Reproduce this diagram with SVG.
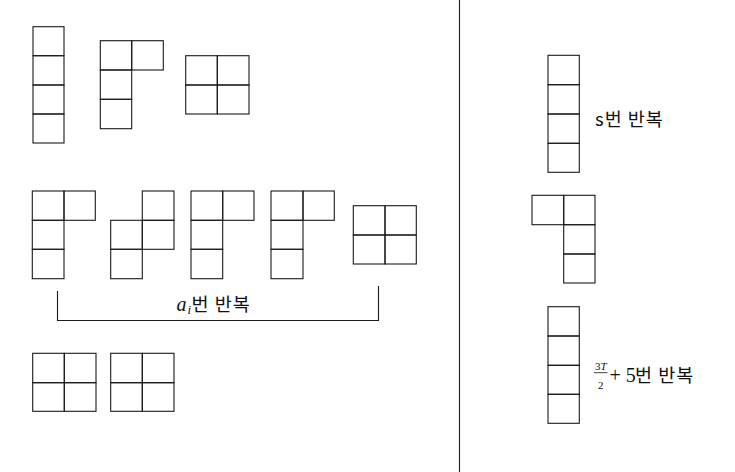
<svg xmlns="http://www.w3.org/2000/svg" width="735" height="472" viewBox="0 0 735 472">
<style>
.c{fill:none;stroke:#1a1a1a;stroke-width:1.1}
.ln{fill:none;stroke:#1a1a1a;stroke-width:1.1}
.kr{font-family:"Noto Sans CJK KR","Noto Sans",sans-serif;font-size:18.5px;font-weight:400;letter-spacing:1px;fill:#111}
.m{font-family:"Liberation Serif","DejaVu Serif",serif;fill:#111}
</style>
<rect width="735" height="472" fill="#fff"/>
<line class="ln" x1="459.5" y1="0" x2="459.5" y2="472"/>

<g id="I1">
<rect class="c" x="33" y="26.7" width="31" height="29"/>
<rect class="c" x="33" y="55.7" width="31" height="29.3"/>
<rect class="c" x="33" y="85" width="31" height="29"/>
<rect class="c" x="33" y="114" width="31" height="29"/>
</g>
<g id="J1">
<rect class="c" x="100.3" y="40.7" width="31.4" height="29.3"/>
<rect class="c" x="131.7" y="40.7" width="31.6" height="29.3"/>
<rect class="c" x="100.3" y="70" width="31.4" height="29.3"/>
<rect class="c" x="100.3" y="99.3" width="31.4" height="29.4"/>
</g>
<g id="O1">
<rect class="c" x="185.7" y="55.7" width="31.6" height="29.3"/>
<rect class="c" x="217.3" y="55.7" width="31.7" height="29.3"/>
<rect class="c" x="185.7" y="85" width="31.6" height="29"/>
<rect class="c" x="217.3" y="85" width="31.7" height="29"/>
</g>

<g id="P1">
<rect class="c" x="32.3" y="191" width="31.7" height="29.3"/>
<rect class="c" x="64" y="191" width="31.3" height="29.3"/>
<rect class="c" x="32.3" y="220.3" width="31.7" height="29"/>
<rect class="c" x="32.3" y="249.3" width="31.7" height="29.4"/>
</g>
<g id="P2">
<rect class="c" x="142.3" y="191" width="31.7" height="29.3"/>
<rect class="c" x="110.7" y="220.3" width="31.6" height="29"/>
<rect class="c" x="142.3" y="220.3" width="31.7" height="29"/>
<rect class="c" x="110.7" y="249.3" width="31.6" height="29.4"/>
</g>
<g id="P3">
<rect class="c" x="191" y="191" width="31.7" height="29.3"/>
<rect class="c" x="222.7" y="191" width="31.3" height="29.3"/>
<rect class="c" x="191" y="220.3" width="31.7" height="29"/>
<rect class="c" x="191" y="249.3" width="31.7" height="29.4"/>
</g>
<g id="P4">
<rect class="c" x="271" y="191" width="32" height="29.3"/>
<rect class="c" x="303" y="191" width="31.3" height="29.3"/>
<rect class="c" x="271" y="220.3" width="32" height="29"/>
<rect class="c" x="271" y="249.3" width="32" height="29.4"/>
</g>
<g id="O2">
<rect class="c" x="353.3" y="205.7" width="31.7" height="29.3"/>
<rect class="c" x="385" y="205.7" width="31.3" height="29.3"/>
<rect class="c" x="353.3" y="235" width="31.7" height="29"/>
<rect class="c" x="385" y="235" width="31.3" height="29"/>
</g>

<g id="connectors">
<path class="ln" d="M57.5 291 V320.5 H378.5 V286"/>
</g>
<g id="label-ai">
<text x="176.5" y="311" class="m" font-size="20" font-style="italic">a<tspan font-size="13" dx="1" dy="3">i</tspan></text>
<text x="191.5" y="311" class="kr">번 반복</text>
</g>

<g id="O3">
<rect class="c" x="32.7" y="353.3" width="31.6" height="29.4"/>
<rect class="c" x="64.3" y="353.3" width="31.7" height="29.4"/>
<rect class="c" x="32.7" y="382.7" width="31.6" height="28.6"/>
<rect class="c" x="64.3" y="382.7" width="31.7" height="28.6"/>
</g>
<g id="O4">
<rect class="c" x="110.7" y="353.3" width="31.6" height="29.4"/>
<rect class="c" x="142.3" y="353.3" width="31.7" height="29.4"/>
<rect class="c" x="110.7" y="382.7" width="31.6" height="28.6"/>
<rect class="c" x="142.3" y="382.7" width="31.7" height="28.6"/>
</g>

<g id="I2">
<rect class="c" x="548" y="55.3" width="31.3" height="29.4"/>
<rect class="c" x="548" y="84.7" width="31.3" height="29.3"/>
<rect class="c" x="548" y="114" width="31.3" height="29.3"/>
<rect class="c" x="548" y="143.3" width="31.3" height="29"/>
</g>
<g id="label-s">
<text x="595" y="126" class="kr">s번 반복</text>
</g>
<g id="L1">
<rect class="c" x="532" y="195.3" width="31.7" height="29.4"/>
<rect class="c" x="563.7" y="195.3" width="31.3" height="29.4"/>
<rect class="c" x="563.7" y="224.7" width="31.3" height="29.3"/>
<rect class="c" x="563.7" y="254" width="31.3" height="29"/>
</g>
<g id="I3">
<rect class="c" x="548" y="306.7" width="31.3" height="29.3"/>
<rect class="c" x="548" y="336" width="31.3" height="29.3"/>
<rect class="c" x="548" y="365.3" width="31.3" height="29"/>
<rect class="c" x="548" y="394.3" width="31.3" height="29"/>
</g>
<g id="label-T">
<text x="600.7" y="369.5" class="m" font-size="11" text-anchor="middle">3<tspan font-style="italic">T</tspan></text>
<line x1="594" y1="372.7" x2="607.5" y2="372.7" stroke="#111" stroke-width="0.8"/>
<text x="600.7" y="388.5" class="m" font-size="11" text-anchor="middle">2</text>
<text x="609.5" y="382" class="m" font-size="20">+ 5</text>
<text x="635" y="382" class="kr">번 반복</text>
</g>
</svg>
